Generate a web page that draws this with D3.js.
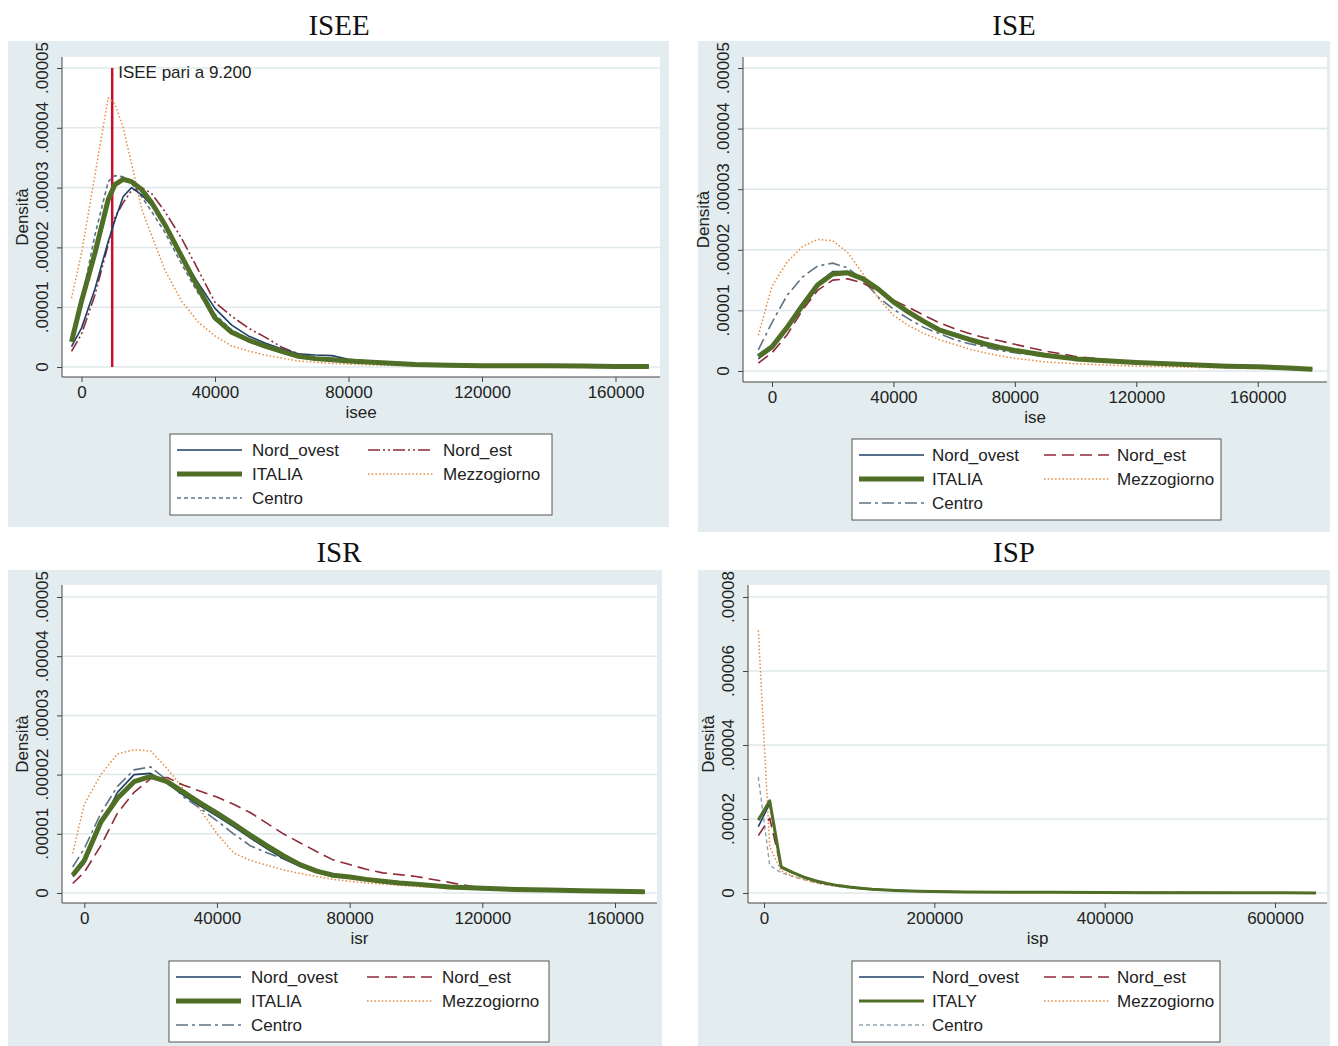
<!DOCTYPE html>
<html>
<head>
<meta charset="utf-8">
<script src="https://cdn.jsdelivr.net/npm/d3@7"></script>
<style>
  body { margin: 0; background: #fff; }
  svg text { font-family: "Liberation Sans", Arial, sans-serif; fill: #222; }
</style>
</head>
<body>
<div id="chart"></div>
<script>
// densities in units of 1e-5
const UNIT = 1e-5;

// ISEE
const iseeX = [-3000, 0, 4000, 8000, 10000, 12500, 15000, 18000, 21000, 25000, 30000, 35000, 40000, 45000, 50000, 55000, 60000, 65000, 70000, 75000, 80000, 90000, 100000, 110000, 120000, 130000, 140000, 150000, 160000, 170000];
const iseeNordOvest = [0.34, 0.65, 1.3, 2.1, 2.45, 2.85, 3.0, 2.88, 2.7, 2.4, 1.85, 1.4, 0.98, 0.7, 0.52, 0.4, 0.3, 0.22, 0.2, 0.19, 0.13, 0.08, 0.05, 0.03, 0.02, 0.02, 0.02, 0.015, 0.01, 0.01];
const iseeNordEst = [0.26, 0.55, 1.2, 2.05, 2.5, 2.75, 2.95, 3.0, 2.9, 2.6, 2.15, 1.62, 1.08, 0.85, 0.65, 0.5, 0.33, 0.22, 0.16, 0.14, 0.12, 0.08, 0.05, 0.03, 0.02, 0.02, 0.02, 0.015, 0.01, 0.01];
const iseeItalia = [0.42, 1.1, 1.9, 2.8, 3.05, 3.14, 3.1, 2.97, 2.75, 2.38, 1.85, 1.32, 0.82, 0.58, 0.45, 0.35, 0.26, 0.18, 0.14, 0.12, 0.1, 0.07, 0.04, 0.03, 0.02, 0.02, 0.02, 0.015, 0.01, 0.01];
const iseeMezzogiorno = [1.15, 1.9, 3.2, 4.5, 4.4, 4.0, 3.4, 2.65, 2.2, 1.62, 1.1, 0.75, 0.52, 0.35, 0.27, 0.2, 0.15, 0.1, 0.08, 0.06, 0.05, 0.03, 0.02, 0.02, 0.01, 0.01, 0.01, 0.01, 0.01, 0.01];
const iseeCentro = [0.48, 1.1, 2.2, 3.1, 3.2, 3.18, 3.07, 2.85, 2.6, 2.25, 1.72, 1.23, 0.88, 0.62, 0.47, 0.37, 0.3, 0.2, 0.14, 0.12, 0.1, 0.07, 0.04, 0.03, 0.02, 0.02, 0.02, 0.015, 0.01, 0.01];
const iseeSoglia = 9200;

// ISE
const iseX = [-4500, 0, 5000, 10000, 15000, 20000, 25000, 30000, 35000, 40000, 45000, 50000, 55000, 60000, 65000, 70000, 75000, 80000, 90000, 100000, 110000, 120000, 130000, 140000, 150000, 160000, 170000, 178000];
const iseNordOvest = [0.2, 0.37, 0.7, 1.08, 1.45, 1.64, 1.64, 1.52, 1.33, 1.12, 0.95, 0.8, 0.67, 0.58, 0.5, 0.44, 0.38, 0.33, 0.25, 0.2, 0.17, 0.14, 0.12, 0.1, 0.08, 0.06, 0.05, 0.03];
const iseNordEst = [0.13, 0.3, 0.6, 1.0, 1.33, 1.5, 1.52, 1.45, 1.32, 1.17, 1.05, 0.92, 0.8, 0.7, 0.62, 0.55, 0.5, 0.44, 0.33, 0.24, 0.19, 0.15, 0.12, 0.1, 0.08, 0.06, 0.04, 0.03];
const iseItalia = [0.24, 0.4, 0.72, 1.08, 1.42, 1.6, 1.62, 1.52, 1.35, 1.14, 0.97, 0.82, 0.68, 0.6, 0.52, 0.45, 0.39, 0.34, 0.26, 0.2, 0.17, 0.14, 0.12, 0.1, 0.08, 0.07, 0.05, 0.03];
const iseMezzogiorno = [0.59, 1.4, 1.8, 2.05, 2.17, 2.15, 1.95, 1.6, 1.2, 0.92, 0.75, 0.62, 0.52, 0.44, 0.36, 0.3, 0.25, 0.21, 0.15, 0.12, 0.1, 0.08, 0.07, 0.06, 0.05, 0.04, 0.03, 0.02];
const iseCentro = [0.35, 0.8, 1.25, 1.55, 1.73, 1.78, 1.7, 1.5, 1.22, 1.02, 0.86, 0.72, 0.62, 0.52, 0.45, 0.4, 0.34, 0.3, 0.24, 0.19, 0.16, 0.14, 0.12, 0.1, 0.08, 0.06, 0.04, 0.03];

// ISR
const isrX = [-3500, 0, 5000, 10000, 15000, 20000, 25000, 30000, 35000, 40000, 45000, 50000, 55000, 60000, 65000, 70000, 75000, 80000, 85000, 90000, 95000, 100000, 110000, 120000, 130000, 140000, 150000, 160000, 169000];
const isrNordOvest = [0.28, 0.5, 1.15, 1.7, 2.0, 2.02, 1.85, 1.65, 1.47, 1.3, 1.12, 0.93, 0.75, 0.58, 0.45, 0.35, 0.29, 0.26, 0.22, 0.19, 0.16, 0.14, 0.1, 0.08, 0.06, 0.05, 0.04, 0.03, 0.02];
const isrNordEst = [0.16, 0.35, 0.8, 1.35, 1.7, 1.93, 1.95, 1.82, 1.72, 1.62, 1.5, 1.36, 1.18, 1.0, 0.85, 0.7, 0.56, 0.48, 0.4, 0.34, 0.31, 0.28, 0.18, 0.08, 0.06, 0.05, 0.04, 0.03, 0.02];
const isrItalia = [0.3, 0.55, 1.2, 1.6, 1.88, 1.97, 1.88, 1.7, 1.52, 1.35, 1.17, 0.98, 0.8, 0.63, 0.48, 0.37, 0.3, 0.27, 0.23, 0.2, 0.17, 0.15, 0.1, 0.08, 0.06, 0.05, 0.04, 0.03, 0.02];
const isrMezzogiorno = [0.67, 1.5, 2.0, 2.35, 2.42, 2.4, 2.1, 1.75, 1.4, 1.0, 0.68, 0.55, 0.47, 0.39, 0.33, 0.28, 0.23, 0.2, 0.17, 0.15, 0.13, 0.11, 0.08, 0.06, 0.05, 0.04, 0.03, 0.02, 0.02];
const isrCentro = [0.44, 0.75, 1.35, 1.8, 2.08, 2.13, 1.9, 1.62, 1.43, 1.22, 1.0, 0.8, 0.68, 0.58, 0.5, 0.4, 0.32, 0.27, 0.23, 0.2, 0.17, 0.15, 0.1, 0.08, 0.06, 0.05, 0.04, 0.03, 0.02];

// ISP
const ispX = [-6700, 6700, 20100, 33500, 46900, 60300, 73700, 87100, 100500, 113900, 127300, 154100, 180900, 234500, 288100, 341700, 395300, 448900, 502500, 556100, 609700, 648000];
const ispNordOvest = [1.79, 2.42, 0.7, 0.55, 0.42, 0.32, 0.25, 0.2, 0.16, 0.13, 0.1, 0.07, 0.05, 0.03, 0.02, 0.02, 0.015, 0.01, 0.01, 0.005, 0.005, 0.003];
const ispNordEst = [1.55, 2.02, 0.68, 0.54, 0.42, 0.32, 0.25, 0.2, 0.16, 0.13, 0.1, 0.07, 0.05, 0.03, 0.02, 0.02, 0.015, 0.01, 0.01, 0.005, 0.005, 0.003];
const ispItaly = [1.97, 2.49, 0.71, 0.56, 0.43, 0.33, 0.26, 0.2, 0.16, 0.13, 0.1, 0.07, 0.05, 0.03, 0.02, 0.02, 0.015, 0.01, 0.01, 0.005, 0.005, 0.003];
const ispMezzogiorno = [7.1, 1.25, 0.6, 0.46, 0.36, 0.28, 0.22, 0.18, 0.14, 0.11, 0.09, 0.06, 0.045, 0.03, 0.02, 0.015, 0.01, 0.01, 0.005, 0.005, 0.003, 0.003];
const ispCentro = [3.14, 0.75, 0.55, 0.45, 0.36, 0.28, 0.22, 0.18, 0.14, 0.11, 0.09, 0.06, 0.045, 0.03, 0.02, 0.015, 0.01, 0.01, 0.005, 0.005, 0.003, 0.003];

const incomeTicks = [0, 40000, 80000, 120000, 160000];
const ispTicks = [0, 200000, 400000, 600000];
const densTicks = [0, 0.00001, 0.00002, 0.00003, 0.00004, 0.00005];
const densTicksIsp = [0, 0.00002, 0.00004, 0.00006, 0.00008];

// colori e stili
const col = {
    ovest: "#1e3f66",
    est: "#8e2a38",
    italia: "#4f6e26",
    mezzo: "#e68a3c",
    centro: "#5d7383",
    centroLight: "#8ea2ae"
};

const svg = d3.select("#chart").append("svg")
    .attr("width", 1338)
    .attr("height", 1046);

function fmtDens(v) {
    if (v === 0) return "0";
    return d3.format(".5f")(v).replace(/^0/, "");
}

function drawPanel(p) {
    const g = svg.append("g");

    // sfondo del pannello
    g.append("rect")
        .attr("x", p.bg[0]).attr("y", p.bg[1])
        .attr("width", p.bg[2] - p.bg[0]).attr("height", p.bg[3] - p.bg[1])
        .attr("fill", "#e3edef");

    g.append("text")
        .attr("x", p.titleX).attr("y", p.titleY)
        .attr("text-anchor", "middle")
        .style("font-family", "'Liberation Serif', 'DejaVu Serif', serif")
        .style("font-size", "29px")
        .style("fill", "#111")
        .text(p.title);

    const pl = p.plot;
    g.append("rect")
        .attr("x", pl.l).attr("y", pl.t)
        .attr("width", pl.r - pl.l).attr("height", pl.b - pl.t)
        .attr("fill", "#fff");

    const x = d3.scaleLinear()
        .domain([p.xTicks[0], p.xTicks[p.xTicks.length - 1]])
        .range(p.xPx);
    const y = d3.scaleLinear()
        .domain([p.yTicks[0], p.yTicks[p.yTicks.length - 1]])
        .range(p.yPx);

    // griglia
    g.selectAll(".grid")
        .data(p.yTicks)
        .join("line")
        .attr("x1", pl.l).attr("x2", pl.r)
        .attr("y1", d => y(d)).attr("y2", d => y(d))
        .attr("stroke", "#dfe8eb")
        .attr("stroke-width", 1.5);

    // asse y
    const yAxis = g.append("g")
        .attr("transform", `translate(${pl.l},0)`)
        .call(d3.axisLeft(y).tickValues(p.yTicks).tickSize(5).tickFormat(() => ""));
    yAxis.select(".domain").remove();
    yAxis.selectAll(".tick line").attr("stroke", "#444");
    g.append("line")
        .attr("x1", pl.l).attr("x2", pl.l)
        .attr("y1", pl.t).attr("y2", pl.b)
        .attr("stroke", "#444");

    g.selectAll(".ylab")
        .data(p.yTicks)
        .join("text")
        .attr("transform", d => `translate(${pl.l - 20},${y(d)}) rotate(-90)`)
        .attr("text-anchor", "middle")
        .attr("dy", "0.35em")
        .style("font-size", "17px")
        .text(fmtDens);

    g.append("text")
        .attr("transform", `translate(${pl.l - 40},${(pl.t + pl.b) / 2}) rotate(-90)`)
        .attr("text-anchor", "middle")
        .attr("dy", "0.35em")
        .style("font-size", "17px")
        .text("Densità");

    // asse x
    const xAxis = g.append("g")
        .attr("transform", `translate(0,${pl.b})`)
        .call(d3.axisBottom(x).tickValues(p.xTicks).tickSize(5).tickFormat(d3.format("d")));
    xAxis.select(".domain").remove();
    xAxis.selectAll(".tick line").attr("stroke", "#444");
    xAxis.selectAll(".tick text")
        .attr("y", 9)
        .style("font-size", "17px")
        .style("font-family", "'Liberation Sans', Arial, sans-serif")
        .attr("fill", "#222");
    g.append("line")
        .attr("x1", pl.l).attr("x2", pl.r)
        .attr("y1", pl.b).attr("y2", pl.b)
        .attr("stroke", "#444");

    g.append("text")
        .attr("x", (pl.l + pl.r) / 2 + p.xTitleShift)
        .attr("y", pl.b + 41)
        .attr("text-anchor", "middle")
        .style("font-size", "17px")
        .text(p.xTitle);

    const line = d3.line()
        .x(d => x(d[0]))
        .y(d => y(d[1] * UNIT));

    // linea verticale ISEE
    if (p.soglia !== undefined) {
        g.append("line")
            .attr("x1", x(p.soglia)).attr("x2", x(p.soglia))
            .attr("y1", y(0)).attr("y2", y(0.00005))
            .attr("stroke", "#c8102e")
            .attr("stroke-width", 2.5);
        g.append("text")
            .attr("x", x(p.soglia) + 6)
            .attr("y", y(0.00005) + 10)
            .style("font-size", "17px")
            .text("ISEE pari a 9.200");
    }

    const drawOrder = [4, 3, 1, 0, 2];
    drawOrder.forEach(i => {
        const s = p.series[i];
        g.append("path")
            .datum(p.xs.map((v, k) => [v, s.values[k]]))
            .attr("fill", "none")
            .attr("stroke", s.color)
            .attr("stroke-width", s.width)
            .attr("stroke-dasharray", s.dash)
            .attr("stroke-linejoin", "round")
            .attr("d", line);
    });

    // legenda
    const lb = p.legend;
    g.append("rect")
        .attr("x", lb.l).attr("y", lb.t)
        .attr("width", lb.r - lb.l).attr("height", lb.b - lb.t)
        .attr("fill", "#fff")
        .attr("stroke", "#555");

    const pos = [[0, 0], [1, 0], [0, 1], [1, 1], [0, 2]];
    p.series.forEach((s, i) => {
        const c = pos[i][0], r = pos[i][1];
        const lx = lb.l + (c === 0 ? 7 : lb.col2);
        const by = lb.t + 22 + r * 24;
        g.append("line")
            .attr("x1", lx).attr("x2", lx + 65)
            .attr("y1", by - 6).attr("y2", by - 6)
            .attr("stroke", s.color)
            .attr("stroke-width", s.width)
            .attr("stroke-dasharray", s.dash);
        g.append("text")
            .attr("x", lx + lb.gap)
            .attr("y", by)
            .style("font-size", "17px")
            .text(s.name);
    });
}

const dotted = "1.5 2.2";

drawPanel({
    title: "ISEE", titleX: 339, titleY: 35,
    bg: [8, 41, 669, 527],
    plot: { l: 62, t: 57, r: 660, b: 377 },
    xTicks: incomeTicks, xPx: [81.5, 615.5],
    yTicks: densTicks, yPx: [367, 68],
    xTitle: "isee", xTitleShift: 0,
    soglia: iseeSoglia,
    legend: { l: 170, t: 434, r: 552, b: 515, col2: 198, gap: 75 },
    xs: iseeX,
    series: [
        { name: "Nord_ovest", values: iseeNordOvest, color: col.ovest, width: 1.6, dash: null },
        { name: "Nord_est", values: iseeNordEst, color: col.est, width: 1.6, dash: "12 3 2 3 2 3" },
        { name: "ITALIA", values: iseeItalia, color: col.italia, width: 5, dash: null },
        { name: "Mezzogiorno", values: iseeMezzogiorno, color: col.mezzo, width: 1.5, dash: dotted },
        { name: "Centro", values: iseeCentro, color: col.centro, width: 1.6, dash: "4 3" }
    ]
});

drawPanel({
    title: "ISE", titleX: 1014, titleY: 35,
    bg: [698, 41, 1330, 532],
    plot: { l: 743, t: 57, r: 1327, b: 382 },
    xTicks: incomeTicks, xPx: [772, 1257.7],
    yTicks: densTicks, yPx: [371, 68],
    xTitle: "ise", xTitleShift: 0,
    legend: { l: 852, t: 439, r: 1221, b: 520, col2: 192, gap: 73 },
    xs: iseX,
    series: [
        { name: "Nord_ovest", values: iseNordOvest, color: col.ovest, width: 1.6, dash: null },
        { name: "Nord_est", values: iseNordEst, color: col.est, width: 1.6, dash: "12 6" },
        { name: "ITALIA", values: iseItalia, color: col.italia, width: 5, dash: null },
        { name: "Mezzogiorno", values: iseMezzogiorno, color: col.mezzo, width: 1.5, dash: dotted },
        { name: "Centro", values: iseCentro, color: col.centro, width: 1.6, dash: "12 4 3 4" }
    ]
});

drawPanel({
    title: "ISR", titleX: 339, titleY: 562,
    bg: [8, 570, 662, 1046],
    plot: { l: 62, t: 585, r: 657, b: 903 },
    xTicks: incomeTicks, xPx: [84.3, 615],
    yTicks: densTicks, yPx: [893, 597],
    xTitle: "isr", xTitleShift: 0,
    legend: { l: 169, t: 961, r: 549, b: 1042, col2: 198, gap: 75 },
    xs: isrX,
    series: [
        { name: "Nord_ovest", values: isrNordOvest, color: col.ovest, width: 1.6, dash: null },
        { name: "Nord_est", values: isrNordEst, color: col.est, width: 1.6, dash: "12 6" },
        { name: "ITALIA", values: isrItalia, color: col.italia, width: 5, dash: null },
        { name: "Mezzogiorno", values: isrMezzogiorno, color: col.mezzo, width: 1.5, dash: dotted },
        { name: "Centro", values: isrCentro, color: col.centro, width: 1.6, dash: "12 4 3 4" }
    ]
});

drawPanel({
    title: "ISP", titleX: 1014, titleY: 562,
    bg: [698, 570, 1330, 1046],
    plot: { l: 748, t: 585, r: 1327, b: 903 },
    xTicks: ispTicks, xPx: [764, 1275],
    yTicks: densTicksIsp, yPx: [893, 597],
    xTitle: "isp", xTitleShift: 0,
    legend: { l: 852, t: 961, r: 1220, b: 1042, col2: 192, gap: 73 },
    xs: ispX,
    series: [
        { name: "Nord_ovest", values: ispNordOvest, color: col.ovest, width: 1.6, dash: null },
        { name: "Nord_est", values: ispNordEst, color: col.est, width: 1.6, dash: "12 6" },
        { name: "ITALY", values: ispItaly, color: col.italia, width: 3, dash: null },
        { name: "Mezzogiorno", values: ispMezzogiorno, color: col.mezzo, width: 1.5, dash: dotted },
        { name: "Centro", values: ispCentro, color: col.centroLight, width: 1.4, dash: "4 3" }
    ]
});
</script>
</body>
</html>
